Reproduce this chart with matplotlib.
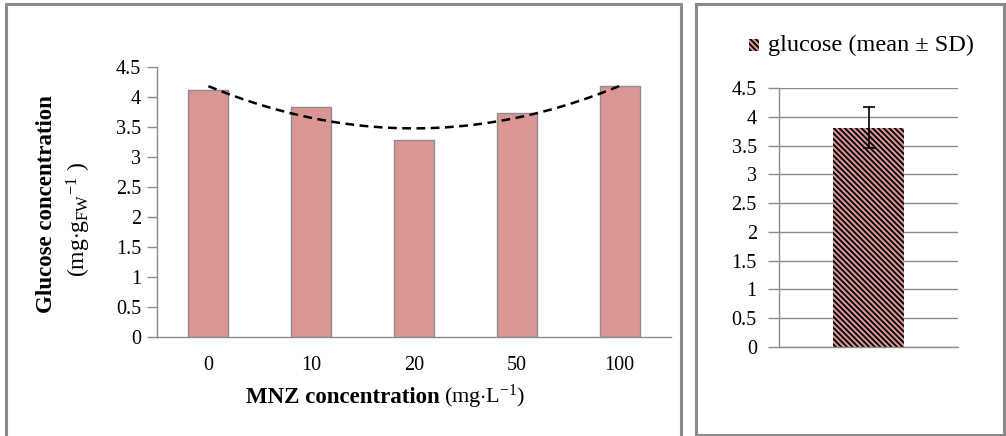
import numpy as np
import matplotlib
matplotlib.use("Agg")
import matplotlib.pyplot as plt
from matplotlib.patches import Rectangle

categories = ["0", "10", "20", "50", "100"]
glucose = [4.12, 3.84, 3.28, 3.73, 4.18]
mean_val = [3.81]
sd_val = [0.36]
yticks = [0, 0.5, 1, 1.5, 2, 2.5, 3, 3.5, 4, 4.5]
ytick_labels = ["0", "0.5", "1", "1.5", "2", "2.5", "3", "3.5", "4", "4.5"]

plt.rcParams['font.family'] = ['Liberation Serif', 'DejaVu Serif']
plt.rcParams['mathtext.fontset'] = 'custom'
plt.rcParams['mathtext.rm'] = 'Liberation Serif'
plt.rcParams['mathtext.it'] = 'Liberation Serif:italic'
plt.rcParams['mathtext.bf'] = 'Liberation Serif:bold'
plt.rcParams['hatch.linewidth'] = 1.3

W, H = 1006, 436
fig = plt.figure(figsize=(W/100, H/100), dpi=100)

pink = '#d99694'
edge = '#8c8c8c'
axis_gray = '#8c8c8c'
panel_gray = '#8a8a8a'
TICK_FS = 14.5
HATCH = '\\' * 6

def fx(px): return px / W
def fy(py): return 1 - py / H

# panel borders
fig.patches.append(Rectangle((fx(5.5), fy(440)), fx(675), (440-4.5)/H, transform=fig.transFigure,
                             fill=False, edgecolor=panel_gray, linewidth=2.2))
fig.patches.append(Rectangle((fx(696), fy(435)), fx(308), (435-4.5)/H, transform=fig.transFigure,
                             fill=False, edgecolor=panel_gray, linewidth=2.2))

# left axes
ax = fig.add_axes([fx(157), fy(337), fx(671-157), (337-67)/H])
x = np.arange(len(categories))
ax.bar(x, glucose, width=0.39, color=pink, edgecolor=edge, linewidth=1.0, zorder=2)
# polynomial (order 2) trendline
coef = np.polyfit(x, glucose, 2)
xt = np.linspace(x[0], x[-1], 200)
ax.plot(xt, np.polyval(coef, xt), color='black', linestyle=(0, (3.5, 2.2)), linewidth=1.8, zorder=3)
ax.set_xlim(-0.5, len(categories) - 0.5)
ax.set_ylim(0, 4.5)
ax.set_yticks(yticks)
ax.set_yticklabels(ytick_labels, fontsize=TICK_FS)
ax.set_xticks(x)
ax.set_xticklabels(categories, fontsize=TICK_FS)
ax.tick_params(axis='x', length=0, pad=14)
ax.tick_params(axis='y', length=7, color=axis_gray, width=1, pad=4.5)
for s in ['top', 'right']:
    ax.spines[s].set_visible(False)
for s in ['left', 'bottom']:
    ax.spines[s].set_color(axis_gray)
    ax.spines[s].set_linewidth(1.0)

fig.text(fx(47), fy(204), "Glucose concentration", rotation=90, ha='center', va='center',
         fontsize=16.5, fontweight='bold')
fig.text(fx(79), fy(219), r"(mg$\cdot$g$_{\mathrm{FW}}$$^{\mathrm{-1}}$ )", rotation=90, ha='center', va='center',
         fontsize=17)

# x label (bold + normal)
t1 = fig.text(fx(246), fy(397), "MNZ concentration", ha='left', va='center', fontsize=16.5, fontweight='bold')
fig.canvas.draw()
bb = t1.get_window_extent()
fig.text((bb.x1 + 4) / W, fy(397), r"(mg$\cdot$L$^{\mathrm{-1}}$)", ha='left', va='center', fontsize=16)

# right axes
ax2 = fig.add_axes([fx(779), fy(347), fx(958-779), (347-88)/H])
ax2.bar([0], mean_val, width=0.4, color=pink, edgecolor='black', hatch=HATCH, linewidth=0, zorder=2)
ax2.errorbar([0], mean_val, yerr=sd_val, fmt='none', ecolor='black', elinewidth=1.2, capsize=4,
             capthick=1.2, zorder=3)
ax2.set_xlim(-0.5, 0.5)
ax2.set_ylim(0, 4.5)
ax2.set_yticks(yticks)
ax2.set_yticklabels(ytick_labels, fontsize=TICK_FS)
ax2.set_xticks([])
ax2.grid(axis='y', color='#8c8c8c', linewidth=1.0, zorder=0)
ax2.set_axisbelow(True)
ax2.tick_params(axis='y', length=8, color=axis_gray, width=1, pad=8)
for s in ['top', 'right']:
    ax2.spines[s].set_visible(False)
for s in ['left', 'bottom']:
    ax2.spines[s].set_color(axis_gray)
    ax2.spines[s].set_linewidth(1.0)

# legend
fig.patches.append(Rectangle((fx(749), fy(51)), fx(10), 12/H, transform=fig.transFigure,
                             facecolor=pink, edgecolor='black', hatch=HATCH, linewidth=0))
fig.text(fx(768), fy(45), "glucose (mean \u00b1 SD)", ha='left', va='center', fontsize=17.5)

fig.savefig("out.png", dpi=100)
